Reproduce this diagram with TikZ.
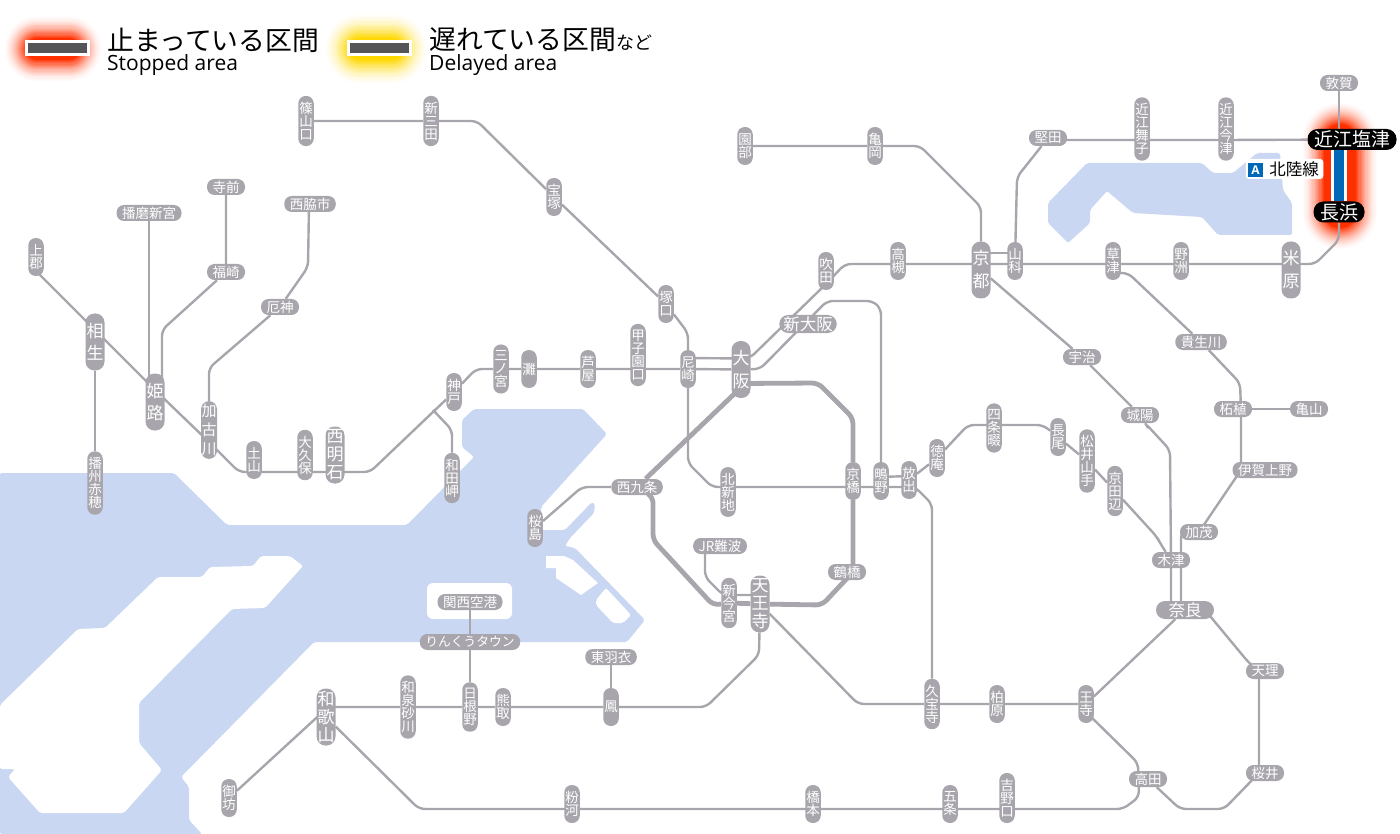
\documentclass[tikz,border=0pt]{standalone}
\usepackage{fontspec}
\usepackage{xcolor}
\usetikzlibrary{calc,backgrounds}
\setmainfont{Noto Sans CJK JP}
\newfontfamily\latinfont{Open Sans}
\definecolor{railgray}{RGB}{169,165,172}
\definecolor{stngray}{RGB}{168,166,172}
\definecolor{seablue}{RGB}{201,215,243}
\definecolor{barfill}{RGB}{85,85,88}
\definecolor{linkblue}{RGB}{0,104,183}
\definecolor{stopred}{RGB}{255,48,0}
\definecolor{delayyellow}{RGB}{255,216,0}
\newcommand{\glowline}[4]{%
  \foreach \i in {0,...,19}{%
    \pgfmathsetmacro{\glowwd}{#2-\i*(#2-#3)/19}
    \pgfmathsetmacro{\glowmix}{pow((\i+1)/20,1.7)*100}
    \draw[line width=\glowwd pt,line cap=round,#1!\glowmix!white] #4;}}

\begin{document}
\begin{tikzpicture}[x=1pt,y=-1pt,
  stn/.style={fill=stngray, text=white, align=center, rounded corners=7.5pt},
  smallv/.style={stn, font=\fontsize{13.5}{13}\selectfont, inner xsep=1pt, inner ysep=6pt, minimum height=38pt},
  smallh/.style={stn, font=\fontsize{13.5}{13}\selectfont, inner xsep=5.5pt, inner ysep=1.5pt, minimum height=16pt},
  bigv/.style={stn, font=\fontsize{17}{18}\selectfont, inner xsep=1pt, inner ysep=1pt, minimum height=57pt, rounded corners=9pt},
  midv/.style={stn, font=\fontsize{15}{19}\selectfont, inner xsep=.5pt, inner ysep=3pt, rounded corners=8pt},
  bigh/.style={stn, font=\fontsize{16.5}{18}\selectfont, inner xsep=4pt, inner ysep=1pt, minimum height=18pt, rounded corners=9pt},
  blackstn/.style={fill=black, text=white, font=\fontsize{19}{20}\selectfont, inner xsep=6.5pt, inner ysep=0pt, minimum height=21pt, rounded corners=10pt},
  rail/.style={draw=railgray, line width=2.4pt, rounded corners=6pt},
  loopline/.style={draw=railgray, line width=4.8pt, rounded corners=6pt},
  legendbar/.style={fill=barfill, draw=white, line width=3pt, minimum width=62pt, minimum height=13pt, inner sep=0pt},
  legendja/.style={anchor=west, inner sep=0pt, text=black, font=\fontsize{26.8}{28}\selectfont},
  legenden/.style={anchor=west, inner sep=0pt, text=black, font=\latinfont\fontsize{21}{22}\selectfont}]
  \useasboundingbox (0,0) rectangle (1400,834);

  % legend
  \node[legendbar] (stopbar) at (57,48) {};
  \node[legendbar] (delaybar) at (379,48) {};
  \node[legendja] (stopja) at (107,40) {止まっている区間};
  \node[legenden] (stopen) at (107,65) {Stopped area};
  \node[legendja] (delayja) at (429,40) {遅れている区間{\fontsize{18}{18}\selectfont など}};
  \node[legenden] (delayen) at (429,65) {Delayed area};

  % west of Osaka
  \node[smallv] (sasayamaguchi) at (306,121) {篠\\山\\口};
  \node[smallv] (shinsanda) at (431,121) {新\\三\\田};
  \node[smallv] (takarazuka) at (554,197) {宝\\塚};
  \node[smallv] (tsukaguchi) at (666,304) {塚\\口};
  \node[smallv] (kamigori) at (36,257) {上\\郡};
  \node[bigv] (aioi) at (95,342) {相\\[4pt]生};
  \node[bigv] (himeji) at (155,402) {姫\\[4pt]路};
  \node[midv] (kakogawa) at (209,430) {加\\古\\川};
  \node[smallv] (banshuako) at (95,483) {播\\州\\赤\\穂};
  \node[smallh] (harimashingu) at (149,213) {播磨新宮};
  \node[smallh] (teramae) at (226,187) {寺前};
  \node[smallh] (fukusaki) at (226,272) {福崎};
  \node[smallh] (nishiwakishi) at (310,204) {西脇市};
  \node[smallh] (yakujin) at (280,307) {厄神};
  \node[smallv] (tsuchiyama) at (254,460) {土\\山};
  \node[smallv] (okubo) at (305,455) {大\\久\\保};
  \node[bigv] (nishiakashi) at (335,455) {西\\明\\石};
  \node[smallv] (kobe) at (454,392) {神\\戸};
  \node[smallv] (wadamisaki) at (452,478) {和\\田\\岬};
  \node[smallv] (sannomiya) at (501,369) {三\\ノ\\宮};
  \node[smallv] (nada) at (529,369) {灘};
  \node[smallv] (ashiya) at (588,369) {芦\\屋};
  \node[smallv] (koshienguchi) at (638,355) {甲\\子\\園\\口};
  \node[smallv] (amagasaki) at (688,369) {尼\\崎};
  \node[smallv] (sakurajima) at (535,528) {桜\\島};

  % Osaka loop
  \node[bigv] (osaka) at (741,369.5) {大\\[5pt]阪};
  \node[bigh] (shinosaka) at (808,324) {新大阪};
  \node[smallv] (kitashinchi) at (728,492) {北\\新\\地};
  \node[smallv] (kyobashi) at (853,481) {京\\橋};
  \node[smallv] (shigino) at (881,481) {鴫\\野};
  \node[smallv] (hanaten) at (909,480) {放\\出};
  \node[smallh] (nishikujo) at (637,487) {西九条};
  \node[smallh] (jrnamba) at (720,546) {JR難波};
  \node[smallh] (tsuruhashi) at (847,572) {鶴橋};
  \node[smallv] (shinimamiya) at (729,603) {新\\今\\宮};
  \node[bigv] (tennoji) at (760,604) {天\\王\\寺};

  % Kyoto and the lake
  \node[smallv] (suita) at (826,271) {吹\\田};
  \node[smallv] (takatsuki) at (898,261) {高\\槻};
  \node[smallv] (sonobe) at (745,146) {園\\部};
  \node[smallv] (kameoka) at (875,146) {亀\\岡};
  \node[bigv] (kyoto) at (981,270) {京\\[5pt]都};
  \node[smallv] (yamashina) at (1015,261) {山\\科};
  \node[smallv] (kusatsu) at (1113,261) {草\\津};
  \node[smallv] (yasu) at (1181,261) {野\\洲};
  \node[bigv] (maibara) at (1291,270) {米\\[5pt]原};
  \node[smallh] (katata) at (1048,138) {堅田};
  \node[smallv] (omimaiko) at (1142,129) {近\\江\\舞\\子};
  \node[smallv] (omiimazu) at (1226,129) {近\\江\\今\\津};
  \node[smallh] (tsuruga) at (1339,83) {敦賀};
  \node[blackstn] (omishiozu) at (1352,139.5) {近江塩津};
  \node[blackstn] (nagahama) at (1339,212) {長浜};
  \node[fill=white, text=black, rounded corners=3pt, font=\fontsize{16.5}{18}\selectfont, inner xsep=4.5pt, inner ysep=0pt, minimum height=20pt] (hokuriku) at (1284.5,169) {\hspace{19pt}北陸線};
  \node[fill=linkblue, text=white, font=\latinfont\bfseries\fontsize{12}{12}\selectfont, inner sep=0pt, minimum size=14.5pt] (hokurikubadge) at (1255.5,170) {A};

  % east of Osaka
  \node[smallh] (uji) at (1082,357) {宇治};
  \node[smallh] (joyo) at (1140,415) {城陽};
  \node[smallh] (kibukawa) at (1201,342) {貴生川};
  \node[smallh] (tsuge) at (1233,409) {柘植};
  \node[smallh] (kameyama) at (1309,409) {亀山};
  \node[smallh] (igaueno) at (1265,470) {伊賀上野};
  \node[smallh] (kamo) at (1199,532) {加茂};
  \node[smallh] (kizu) at (1171,560) {木津};
  \node[bigh, minimum width=58pt] (nara) at (1185,610) {奈良};
  \node[smallv] (tokuan) at (937,458) {徳\\庵};
  \node[smallv] (shijonawate) at (994,428) {四\\条\\畷};
  \node[smallv] (nagao) at (1058,437) {長\\尾};
  \node[smallv] (matsuiyamate) at (1087,461) {松\\井\\山\\手};
  \node[smallv] (kyotanabe) at (1115,491) {京\\田\\辺};
  \node[smallv] (kyuhoji) at (932,704) {久\\宝\\寺};
  \node[smallv] (kashiwara) at (997,704) {柏\\原};
  \node[smallv] (oji) at (1086,704) {王\\寺};
  \node[smallh] (tenri) at (1265,671) {天理};
  \node[smallh] (sakurai) at (1265,773) {桜井};
  \node[smallh] (takada) at (1148,779) {高田};

  % south
  \node[smallh] (kansaiairport) at (470,602) {関西空港};
  \node[smallh, font=\fontsize{12.8}{13}\selectfont] (rinku) at (470,642) {りんくうタウン};
  \node[smallh] (higashihagoromo) at (611,657) {東羽衣};
  \node[smallv] (izumisunagawa) at (408,707) {和\\泉\\砂\\川};
  \node[smallv] (hineno) at (470,707) {日\\根\\野};
  \node[smallv] (kumatori) at (503,707) {熊\\取};
  \node[smallv] (otori) at (611,707) {鳳};
  \node[bigv] (wakayama) at (326,717) {和\\歌\\山};
  \node[smallv] (gobo) at (229,798) {御\\坊};
  \node[smallv] (konakawa) at (572,804) {粉\\河};
  \node[smallv] (hashimoto) at (813,804) {橋\\本};
  \node[smallv] (gojo) at (950,804) {五\\条};
  \node[smallv] (yoshinoguchi) at (1007,798) {吉\\野\\口};

  \coordinate (sanyo) at (0,472);
  \coordinate (tozai) at (0,487);
  \coordinate (biwako) at (0,264);
  \coordinate (kosei) at (0,140);
  \coordinate (wakayamasen) at (0,809);
  \coordinate (wadajunction) at (433,410);

  \begin{pgfonlayer}{background}
    % glows
    \glowline{stopred}{66}{22}{(37,49) -- (69,49)}
    \glowline{delayyellow}{72}{22}{(360,49) -- (392,49)}
    \glowline{stopred}{76}{32}{(1340,140) -- (1340,212)}

    % sea
    \fill[seablue, rounded corners=2pt] (0,473) -- (174,473) -- (227,525) -- (407,525) -- (474,457) -- (462,447) -- (462,420) -- (474,409)
      -- (583,409) -- (607,434) -- (541,507) -- (541,530) -- (565,530) -- (592,502) -- (595,504) -- (594,513) -- (570,538) -- (565,546)
      -- (575,548) -- (645,620) -- (627,642) -- (314,642) -- (181,777) -- (189,787) -- (189,820) -- (202,834) -- (0,834) -- cycle;
    \fill[white, rounded corners=2pt] (303,566) -- (290,556) -- (261,556) -- (253,566) -- (210,567) -- (202,577) -- (158,577) -- (105,628)
      -- (78,629) -- (0,705) -- (0,769) -- (15,769) -- (8,777) -- (40,813) -- (124,813) -- (162,770) -- (139,743) -- (139,703)
      -- (232,609) -- (265,608) -- cycle;
    \fill[white, rounded corners=6pt] (427,583) rectangle (512,619);
    \fill[white] (546,556) -- (546,568) -- (556,568) -- (556,578) -- (581,595) -- (598,583) -- (573,560) -- (564,556) -- cycle;
    \fill[white, rounded corners=2pt] (606,588) -- (596,600) -- (596,605) -- (613,623) -- (623,623) -- (631,615) -- cycle;
    \fill[seablue, rounded corners=2pt] (1087,163) -- (1202,163) -- (1213,173) -- (1233,173) -- (1257,153) -- (1280,153) -- (1283,190)
      -- (1292,203) -- (1292,235) -- (1218,235) -- (1202,217) -- (1133,213) -- (1107,191) -- (1090,210) -- (1090,223) -- (1068,243)
      -- (1048,223) -- (1048,203) -- cycle;

    % Osaka loop
    \draw[loopline] ([yshift=-14pt]osaka.center) -- (818,383) -- (853,418) -- (kyobashi) -- ([xshift=6pt]tsuruhashi.center) -- (822,605)
      -- (tennoji) -- (shinimamiya) -- (713,605) -- (653,540) -- (653,497) -- (nishikujo) -- ([yshift=-18pt]osaka.center);

    % lines
    \draw[rail] (sasayamaguchi) -- (shinsanda) -- (477,121) -- (takarazuka) -- (tsukaguchi) -- (688,333) -- (amagasaki) -- (688,463) -- (712,487)
      -- (kitashinchi |- tozai) -- (kyobashi |- tozai) -- (shigino |- tozai) -- (hanaten |- tozai) -- (915,487) -- (932,504) -- (kyuhoji);
    \draw[rail] ([yshift=4pt]shigino.center) -- ([yshift=4pt]hanaten.center);
    \draw[rail] ([yshift=-14pt]kamigori.center) -- ([yshift=12pt]aioi.center) -- ([yshift=12pt]himeji.center) -- ([yshift=-12pt]kakogawa.center)
      -- (239,472) -- (tsuchiyama |- sanyo) -- (okubo |- sanyo) -- (nishiakashi |- sanyo) -- (370,472) -- (kobe) -- (476,369)
      -- (sannomiya) -- (nada) -- (ashiya) -- (koshienguchi |- sannomiya) -- (amagasaki) -- (osaka);
    \draw[rail] (wadajunction) -- (452,430) -- (wadamisaki);
    \draw[rail] (aioi) -- (banshuako);
    \draw[rail] (harimashingu) -- (harimashingu |- himeji);
    \draw[rail] (teramae) -- (fukusaki) -- (162,330) -- ([xshift=7pt]himeji.center);
    \draw[rail] ([xshift=-1pt]nishiwakishi.center) -- (308,267) -- (yakujin) -- (209,368) -- (kakogawa);
    \draw[rail] ([yshift=11pt]amagasaki.center) -- ([yshift=11pt]osaka.center) -- (750,358) -- ([yshift=-13pt]suita.center) -- (845,264)
      -- (takatsuki |- biwako) -- (kyoto |- biwako) -- (yamashina |- biwako) -- (kusatsu |- biwako) -- (yasu |- biwako) -- (maibara |- biwako)
      -- (1315,264) -- (1339,240) -- (nagahama);
    \draw[rail] (nagahama) -- (tsuruga);
    \draw[rail] (osaka) -- (760,369) -- (827,301) -- (873,301) -- (881,309) -- (shigino);
    \draw[rail] ([yshift=17pt]kyoto.center) -- ([yshift=8pt]yamashina.center);
    \draw[rail] ([yshift=-2pt]katata.center) -- (omimaiko |- kosei) -- (omiimazu |- kosei) -- (omishiozu);
    \draw[rail] (katata) -- (1017,177) -- (yamashina);
    \draw[rail] (sonobe) -- (kameoka) -- (920,146) -- (981,207) -- (kyoto);
    \draw[rail] (kyoto) -- (uji) -- (joyo) -- (1145,423) -- (1170,450) -- (kizu) -- (kizu |- nara);
    \draw[rail] (hanaten) -- (tokuan) -- (968,425) -- (1043,425) -- (nagao) -- (matsuiyamate) -- (kyotanabe) -- (1157,537) -- (1160,543) -- (kizu);
    \draw[rail] ([yshift=-12pt]kusatsu.center) -- (1128,273) -- (kibukawa) -- (1240,383) -- ([xshift=8pt]tsuge.center) -- ([xshift=-24pt]igaueno.center)
      -- (kamo.center) -- ([xshift=-18pt]kamo.center) -- ([xshift=-4pt]nara.center);
    \draw[rail] (tsuge) -- (kameyama);
    \draw[rail] (sakurajima) -- (582,487) -- (nishikujo);
    \draw[rail] ([xshift=-15pt]jrnamba.center) -- (705,577) -- (723,595) -- ([yshift=9pt]tennoji.center);
    \draw[rail] (tennoji) -- (858,704) -- (kyuhoji) -- (kashiwara) -- (oji);
    \draw[rail] (oji) -- (nara);
    \draw[rail] ([yshift=-8pt]oji.center) -- (1138,763) -- (1139,797) -- (1123,809) -- (yoshinoguchi |- wakayamasen) -- (gojo |- wakayamasen)
      -- (hashimoto |- wakayamasen) -- (konakawa |- wakayamasen) -- (419,809) -- (wakayama);
    \draw[rail] ([yshift=10pt]wakayama.center) -- (izumisunagawa) -- (hineno) -- (kumatori) -- (otori) -- (706,707) -- (759,655) -- (tennoji);
    \draw[rail] ([yshift=8pt]wakayama.center) -- (gobo);
    \draw[rail] (kansaiairport) -- (rinku) -- (hineno);
    \draw[rail] (higashihagoromo) -- (otori);
    \draw[rail] ([xshift=20pt]nara.center) -- (1249,663) -- ([xshift=-6pt]tenri.center) -- ([xshift=-6pt]sakurai.center) -- (1224,809) -- (1180,809) -- (takada);

    % stopped section
    \draw[white, line width=16pt] ([xshift=-13pt]omishiozu.center) -- (nagahama);
    \draw[linkblue, line width=10pt] ([xshift=-13pt]omishiozu.center) -- (nagahama);
  \end{pgfonlayer}
\end{tikzpicture}
\end{document}
